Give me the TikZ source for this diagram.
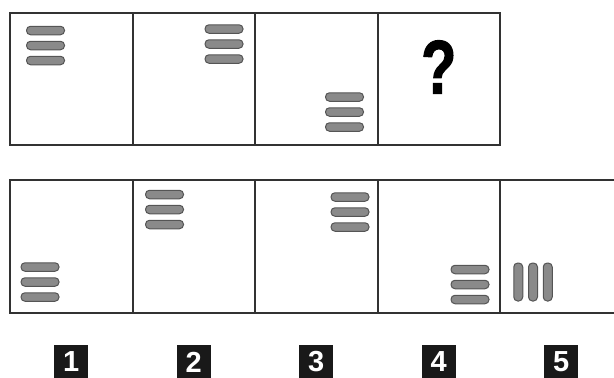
\documentclass[tikz,border=0pt]{standalone}
\usepackage{fontspec}
\setmainfont{Liberation Sans}
\newfontfamily\heavyfont{Liberation Sans Bold}[FakeBold=1.6]
\usepackage{tikz}
\usetikzlibrary{positioning}
\definecolor{bargray}{RGB}{138,138,138}
\definecolor{baredge}{RGB}{85,85,85}
\definecolor{framegray}{RGB}{50,50,50}

\begin{document}
\begin{tikzpicture}[x=1pt, y=-1pt,
  cell/.style={draw=framegray, line width=2pt, minimum width=122.5pt,
               minimum height=132.5pt, inner sep=0pt},
  hbar/.style={draw=baredge, fill=bargray, line width=1pt, rounded corners=4pt,
               minimum width=38pt, minimum height=8.5pt, inner sep=0pt},
  vbar/.style={hbar, minimum width=9pt, minimum height=38pt},
  num/.style={fill=black!90, text=white, font=\fontsize{29}{29}\selectfont\bfseries,
              minimum width=34pt, minimum height=34pt, inner sep=0pt}
]
  \useasboundingbox (0,0) rectangle (614,378);
  \clip (0,0) rectangle (614,378);

  % question row
  \foreach \i in {1,...,4}
    \node[cell] (q\i) at (71.25+122.5*\i-122.5, 79) {};
  \node[font=\fontsize{76}{76}\selectfont\heavyfont] (qmark) at (438.75,67)
    {\scalebox{0.76}[1]{?}};

  % answer row
  \foreach \i in {1,...,5}
    \node[cell] (a\i) at (71.25+122.5*\i-122.5, 246.5) {};

  % stacks of bars
  \foreach \n/\x/\y in {q1/45.5/45.5, q2/224/44, q3/344.5/112, a1/40/282,
                        a2/164.5/209.5, a3/350/212, a4/470/284.5}
    \foreach \k in {-1,0,1}
      \node[hbar] (\n-bar\k) at (\x, \y+15*\k) {};
  \foreach \k in {-1,0,1}
    \node[vbar] (a5-bar\k) at (533+14.75*\k, 282) {};

  % answer numbers
  \foreach \i in {1,...,5}
    \node[num, below=31pt of a\i] (n\i) {\i};
\end{tikzpicture}
\end{document}
